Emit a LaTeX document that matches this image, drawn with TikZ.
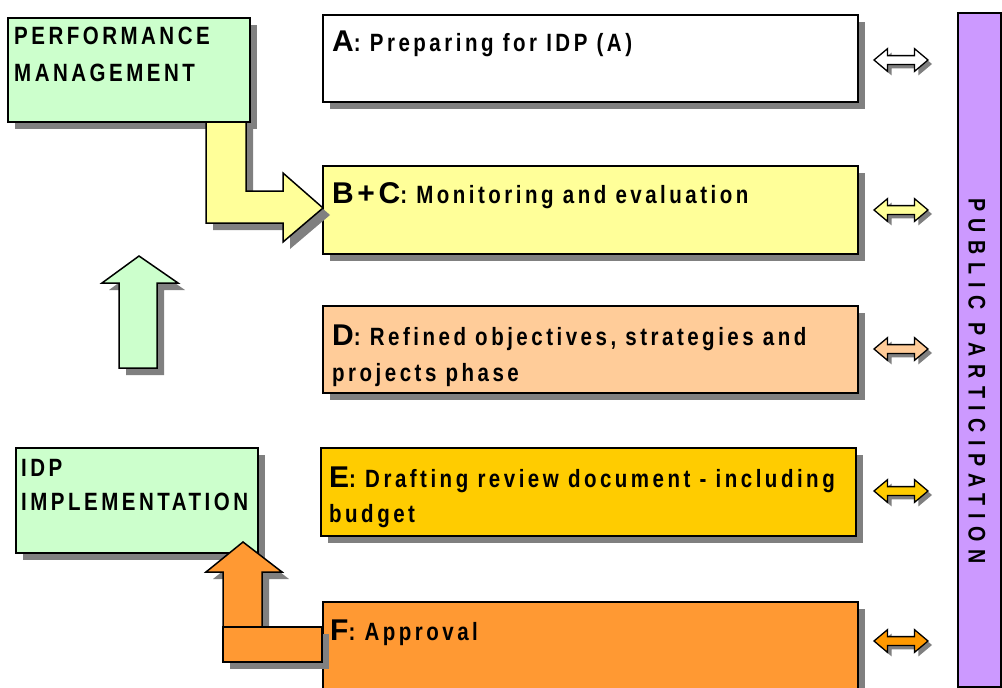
\documentclass[tikz,border=0pt]{standalone}
\usepackage{fontspec}
\setmainfont{Liberation Sans}[FakeStretch=0.82, LetterSpace=14]
\newfontfamily\ppfamily{Liberation Sans}[FakeStretch=0.82, LetterSpace=32]
\newfontfamily\bigfamily{Liberation Sans}[LetterSpace=12]
\usetikzlibrary{shadows,shapes.arrows}
\definecolor{pmgreen}{HTML}{CCFFCC}
\definecolor{bcyellow}{HTML}{FFFF99}
\definecolor{dpeach}{HTML}{FFCC99}
\definecolor{egold}{HTML}{FFCC00}
\definecolor{forange}{HTML}{FF9933}
\definecolor{arrorange}{HTML}{FF9900}
\definecolor{ppurple}{HTML}{CC99FF}
\definecolor{shadowgray}{HTML}{808080}
\newcommand\bodyfont{\fontsize{25}{35}\selectfont\bfseries}
\newcommand\stepletter[1]{{\bigfamily\fontsize{30}{35}\selectfont\bfseries #1}}
\tikzset{
  shd/.style={drop shadow={shadow xshift=7pt, shadow yshift=-7pt, fill=shadowgray, opacity=1}},
  panel/.style={draw=black, line width=1.5pt, shd, anchor=north west, inner sep=0pt},
  txt/.style={anchor=base west, inner sep=0pt, font=\bodyfont},
  dbl/.style={shape=double arrow, draw=black, line width=1.3pt, minimum height=54pt,
    inner sep=3.75pt, double arrow head extend=7pt, double arrow tip angle=80,
    drop shadow={shadow xshift=4pt, shadow yshift=-4pt, fill=shadowgray, opacity=1}},
  bigarrow/.style={draw=black, line width=1.5pt, line join=miter, shd}
}
\begin{document}
\begin{tikzpicture}[x=1pt,y=-1pt]
\fill[white] (0,0) rectangle (1002,688);
\useasboundingbox (0,0) rectangle (1002,688);

% boxes
\node[panel, fill=pmgreen, minimum width=242pt, minimum height=104pt] (pm) at (7,17) {};
\node[panel, fill=pmgreen, minimum width=242pt, minimum height=105pt] (idp) at (15,447) {};
\node[panel, fill=white, minimum width=535pt, minimum height=87pt] (A) at (322,14) {};
\node[panel, fill=bcyellow, minimum width=535pt, minimum height=88pt] (BC) at (322,165) {};
\node[panel, fill=dpeach, minimum width=535pt, minimum height=87pt] (D) at (322,305) {};
\node[panel, fill=egold, minimum width=535pt, minimum height=88pt] (E) at (320,447) {};
\node[panel, fill=forange, minimum width=535pt, minimum height=100pt] (F) at (322,601) {};
\node[panel, fill=ppurple, minimum width=43pt, minimum height=674pt] (pp) at (957,12) {};

% texts
\node[txt] (pm1) at (14,44) {PERFORMANCE};
\node[txt] (pm2) at (14,81) {MANAGEMENT};
\node[txt] (idp1) at (21,476) {IDP};
\node[txt] (idp2) at (21,510) {IMPLEMENTATION};
\node[txt] (At) at (332,51) {\stepletter{A}: Preparing for IDP (A)};
\node[txt] (BCt) at (332,203) {\stepletter{B+C}: Monitoring and evaluation};
\node[txt] (Dt1) at (332,345) {\stepletter{D}: Refined objectives, strategies and};
\node[txt] (Dt2) at (332,381) {projects phase};
\node[txt] (Et1) at (329,487) {\stepletter{E}: Drafting review document - including};
\node[txt] (Et2) at (329,522) {budget};
\node[txt] (Ft) at (330,640) {\stepletter{F}: Approval};
\node[rotate=-90, inner sep=0pt, font=\fontsize{24}{25}\selectfont\ppfamily\bfseries] (ppt) at (977,381) {PUBLIC PARTICIPATION};

% big arrows
\draw[bigarrow, fill=bcyellow] (206,122) -- (246,122) -- (246,191) -- (283,191) -- (283,173)
  -- (323,208) -- (283,242) -- (283,223) -- (206,223) -- cycle;
\draw[bigarrow, fill=pmgreen] (139,256) -- (178,283) -- (157,283) -- (157,368) -- (119,368)
  -- (119,283) -- (102,283) -- cycle;
\draw[bigarrow, fill=forange] (243,542) -- (282,572) -- (262,572) -- (262,627) -- (223,627)
  -- (223,572) -- (206,572) -- cycle;
\draw[bigarrow, fill=forange] (223,627) rectangle (322,662);

% double arrows
\node[dbl, fill=white] (dA) at (901,60) {};
\node[dbl, fill=bcyellow] (dB) at (901,210) {};
\node[dbl, fill=dpeach] (dD) at (901,349) {};
\node[dbl, fill=egold] (dE) at (901,491) {};
\node[dbl, fill=arrorange] (dF) at (901,641) {};
\end{tikzpicture}
\end{document}
